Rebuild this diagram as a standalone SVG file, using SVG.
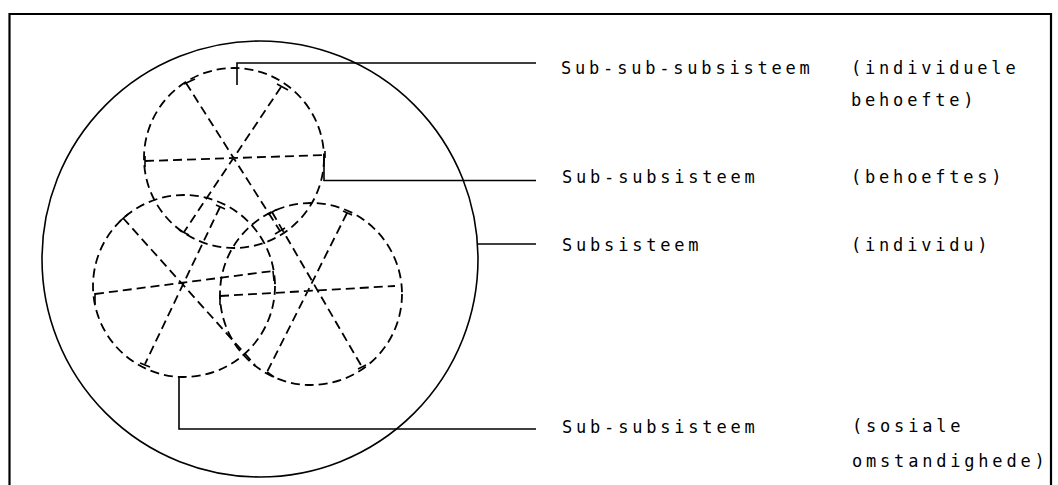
<svg xmlns="http://www.w3.org/2000/svg" width="1058" height="485" viewBox="0 0 1058 485">
  <style>
    .frame { fill: none; stroke: #000; stroke-width: 2.2; }
    .solid { fill: none; stroke: #000; stroke-width: 1.6; }
    .dash { fill: none; stroke: #000; stroke-width: 1.8; stroke-dasharray: 9 5; }
    .tick { fill: none; stroke: #000; stroke-width: 1.6; }
    .lead { fill: none; stroke: #000; stroke-width: 1.6; }
    .lbl { font-family: "DejaVu Sans Mono", "Liberation Mono", monospace; font-size: 17px; letter-spacing: 3.8px; fill: #000; }
  </style>
  <rect width="1058" height="485" fill="#fff"/>
  <g id="frame">
    <path class="frame" d="M9.5,485 V14 H1051 V485"/>
  </g>
  <g id="subsisteem">
    <circle class="solid" cx="260" cy="259" r="218"/>
  </g>
  <g id="sub-subsisteem-behoeftes">
    <circle class="dash" cx="234" cy="158" r="90"/>
    <path class="dash" d="M145,161 L325,155 M186,83 L280,231 M281,87 L184,232"/>
    <path class="tick" d="M145,156 V167 M325,151 V158 M184,84 L195,79 M275,234 L285,228 M277,84 L288,90 M179,230 L189,235"/>
  </g>
  <g id="sub-subsisteem-sosiale">
    <circle class="dash" cx="184" cy="286" r="91"/>
    <path class="dash" d="M95,294 L273,271 M123,218 L255,365 M220,207 L145,364"/>
    <path class="tick" d="M95,293 V304 M273,271 L274,281 M119,222 L128,214 M140,363 L150,367 M216,205 L225,209"/>
  </g>
  <g id="sub-subsisteem-3">
    <circle class="dash" cx="311" cy="294" r="91"/>
    <path class="dash" d="M220,296 L395,286 M272,212 L362,367 M347,213 L267,372"/>
    <path class="tick" d="M220,295 V305 M268,214.5 L276.5,209.5 M358,369 L366,365 M343,211 L352,215 M267,372 L274,377"/>
  </g>
  <g id="connectors">
    <path class="lead" d="M237,85 V63 H536"/>
    <path class="lead" d="M324,155 V180.5 H536"/>
    <path class="lead" d="M477,244 H536"/>
    <path class="lead" d="M179,377 V429 H536"/>
  </g>
  <g id="label-sub-sub-subsisteem">
    <text class="lbl" x="561" y="74">Sub-sub-subsisteem</text>
    <text class="lbl" x="851" y="74">(individuele</text>
    <text class="lbl" x="851" y="106">behoefte)</text>
  </g>
  <g id="label-sub-subsisteem-1">
    <text class="lbl" x="562" y="183">Sub-subsisteem</text>
    <text class="lbl" x="851" y="183">(behoeftes)</text>
  </g>
  <g id="label-subsisteem">
    <text class="lbl" x="562" y="251">Subsisteem</text>
    <text class="lbl" x="851" y="251">(individu)</text>
  </g>
  <g id="label-sub-subsisteem-2">
    <text class="lbl" x="562" y="433">Sub-subsisteem</text>
    <text class="lbl" x="852" y="432">(sosiale</text>
    <text class="lbl" x="852" y="467">omstandighede)</text>
  </g>
</svg>
